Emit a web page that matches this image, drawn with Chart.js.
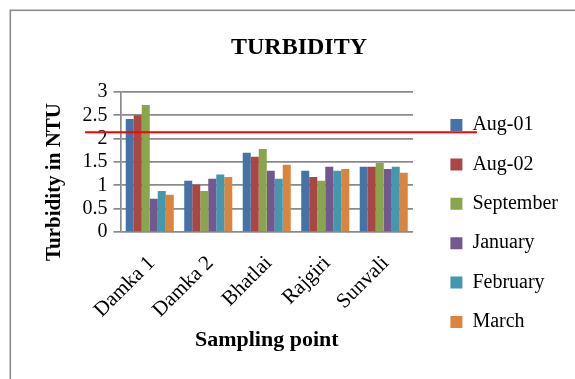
<!DOCTYPE html>
<html>
<head>
<meta charset="utf-8">
<script src="https://cdn.jsdelivr.net/npm/chart.js@4.4.1/dist/chart.umd.min.js"></script>
<style>
html, body { margin: 0; padding: 0; background: #ffffff; overflow: hidden; width: 575px; height: 379px; }
#wrap { position: absolute; left: 0; top: 0; width: 575px; height: 379px; }
</style>
</head>
<body>
<div id="wrap"><canvas id="c" width="575" height="379"></canvas></div>
<script>
// ---- data ----
const categories = ['Damka 1', 'Damka 2', 'Bhatlai', 'Rajgiri', 'Sunvali'];
const seriesNames = ['Aug-01', 'Aug-02', 'September', 'January', 'February', 'March'];
const aug01     = [2.42, 1.10, 1.70, 1.31, 1.40];
const aug02     = [2.50, 1.01, 1.61, 1.18, 1.40];
const september = [2.72, 0.88, 1.78, 1.10, 1.48];
const january   = [0.71, 1.14, 1.31, 1.40, 1.35];
const february  = [0.88, 1.23, 1.14, 1.31, 1.40];
const march     = [0.80, 1.18, 1.44, 1.35, 1.27];
const yTickLabels = ['0', '0.5', '1', '1.5', '2', '2.5', '3'];
const redLineValue = 2.14;
const chartTitle = 'TURBIDITY';
const xTitle = 'Sampling point';
const yTitle = 'Turbidity in NTU';

// ---- styling ----
const seriesValues = [aug01, aug02, september, january, february, march];
const colors = ['#4572A7', '#AA4643', '#89A54E', '#71588F', '#4198AF', '#DB843D'];
const serif = "'Liberation Serif', 'Times New Roman', serif";
const gridGray = '#8a8a8a';

const extras = {
  id: 'extras',
  beforeDraw(chart) {
    const ctx = chart.ctx;
    ctx.save();
    ctx.fillStyle = '#ffffff';
    ctx.fillRect(0, 0, chart.width, chart.height);
    ctx.strokeStyle = '#8c8c8c';
    ctx.lineWidth = 1.6;
    ctx.strokeRect(10.3, 10.3, chart.width + 50, chart.height + 50);
    ctx.restore();
  },
  afterLayout(chart) {
    const L = chart.legend;
    const a = chart.chartArea;
    L.left = a.right + 18;
    L.right = chart.width;
    L.top = a.top + 3.6;
    L.bottom = chart.height;
  },
  afterDraw(chart) {
    const ctx = chart.ctx;
    const a = chart.chartArea;
    const ys = chart.scales.y;
    // red reference line
    const y = ys.getPixelForValue(redLineValue);
    ctx.save();
    ctx.strokeStyle = '#ff0000';
    ctx.lineWidth = 2;
    ctx.beginPath();
    ctx.moveTo(a.left - 35.5, y);
    ctx.lineTo(a.right + 64, y);
    ctx.stroke();
    ctx.restore();
    // y axis title
    ctx.save();
    ctx.fillStyle = '#000000';
    ctx.font = 'bold 21px ' + serif;
    ctx.textAlign = 'center';
    ctx.textBaseline = 'middle';
    ctx.translate(ys.left, (a.top + a.bottom) / 2 + 20);
    ctx.rotate(-Math.PI / 2);
    ctx.fillText(yTitle, 0, 0);
    ctx.restore();
  }
};

new Chart(document.getElementById('c'), {
  type: 'bar',
  data: {
    labels: categories,
    datasets: seriesNames.map((name, i) => ({
      label: name,
      data: seriesValues[i],
      backgroundColor: colors[i],
      borderWidth: 0,
      barPercentage: 1,
      categoryPercentage: 0.821
    }))
  },
  options: {
    responsive: false,
    animation: false,
    devicePixelRatio: 1,
    layout: { padding: { left: 55, right: 32, top: 0, bottom: 0 } },
    plugins: {
      title: {
        display: true,
        text: chartTitle,
        color: '#000000',
        font: { family: serif, size: 24, weight: 'bold' },
        padding: { top: 33.3, bottom: 29.9 }
      },
      legend: {
        position: 'right',
        align: 'start',
        maxWidth: 130,
        labels: {
          color: '#000000',
          font: { family: serif, size: 20 },
          boxWidth: 12,
          boxHeight: 12,
          padding: 19.4
        }
      },
      tooltip: { enabled: false }
    },
    scales: {
      x: {
        grid: { display: false, drawTicks: false },
        border: { display: false },
        ticks: {
          color: '#000000',
          font: { family: serif, size: 21 },
          minRotation: 45,
          maxRotation: 45,
          autoSkip: false,
          padding: 19,
          labelOffset: 2
        },
        title: {
          display: true,
          text: xTitle,
          color: '#000000',
          font: { family: serif, size: 22, weight: 'bold' },
          padding: { top: 0, bottom: 25.8 }
        },
        afterFit(s) { s.height = 147; }
      },
      y: {
        min: 0,
        max: 3,
        ticks: {
          stepSize: 0.5,
          autoSkip: false,
          color: '#000000',
          font: { family: serif, size: 20 },
          padding: 6,
          callback: (v, i) => yTickLabels[i]
        },
        grid: { color: gridGray, lineWidth: 1.7, tickLength: 7, drawTicks: true },
        border: { display: true, color: gridGray, width: 1.7 },
        afterFit(s) { s.width = 65.5; }
      }
    }
  },
  plugins: [extras]
});
</script>
</body>
</html>
